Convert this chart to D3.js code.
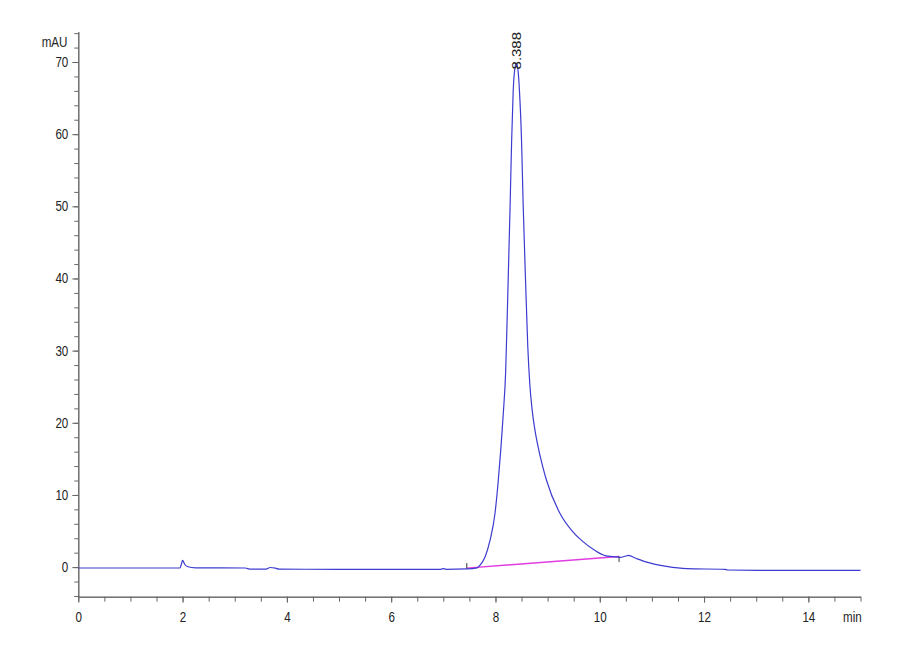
<!DOCTYPE html>
<meta charset="utf-8">
<script src="https://d3js.org/d3.v7.min.js"></script>
<style>
  body { margin: 0; background: #fff; }
  text { font-family: "Liberation Sans", Arial, sans-serif; fill: #222; }
</style>
<div id="my_dataviz"></div>
<script>
  // chromatogram trace: time (min) and absorbance (mAU)
  var times = [0, 1.0, 1.95, 1.98, 2.0, 2.04, 2.1, 2.25, 3.2, 3.3, 3.6, 3.68, 3.78, 3.85,
    5.0, 6.0, 6.95, 7.0, 7.05, 7.45, 7.65, 7.70, 7.80, 7.895, 7.99, 8.054, 8.105, 8.15,
    8.195, 8.23, 8.28, 8.31, 8.34, 8.37, 8.40, 8.43, 8.46, 8.50, 8.53, 8.58, 8.62, 8.66,
    8.70, 8.75, 8.82, 8.90, 8.98, 9.24, 9.46, 9.65, 9.91, 10.1, 10.26, 10.4, 10.48, 10.55,
    10.7, 10.9, 11.28, 11.67, 12.4, 12.45, 13.2, 14.5, 15.0];
  var signal = [-0.12, -0.12, -0.12, 0.5, 0.93, 0.4, 0.05, -0.1, -0.12, -0.28, -0.28, -0.05, -0.15, -0.28,
    -0.3, -0.3, -0.3, -0.2, -0.3, -0.25, -0.1, 0.24, 1.4, 3.7, 7.4, 12.0, 16.6, 21.3,
    27, 36, 49.9, 59.1, 66, 69.0, 69.8, 69.0, 66, 59.1, 50.5, 39, 30.5, 25.2,
    22.0, 19.3, 16.6, 14.1, 12.0, 7.4, 5.1, 3.7, 2.3, 1.6, 1.45, 1.35, 1.5, 1.62,
    1.2, 0.69, 0.1, -0.22, -0.3, -0.4, -0.45, -0.45, -0.45];

  // integration baseline of the peak
  var baseTimes = [7.45, 10.37];
  var baseValues = [-0.14, 1.48];
  var peakTime = 8.388;
  var peakValue = 69.8;
  var peakLabel = "8.388";

  // axis ticks
  var xMajor = [0, 2, 4, 6, 8, 10, 12, 14];
  var yMajor = [0, 10, 20, 30, 40, 50, 60, 70];

  var svg = d3.select("#my_dataviz")
    .append("svg")
    .attr("width", 900)
    .attr("height", 660);

  var x = d3.scaleLinear().domain([0, 15]).range([78.3, 860.5]);
  var y = d3.scaleLinear().domain([-4.1, 74.2]).range([596.7, 31.7]);

  var axisColor = "#666";
  var squeeze = 0.83; // the original labels are horizontally narrow

  // X axis: minor then major
  svg.append("g")
    .attr("transform", "translate(0," + y(-4.1) + ")")
    .call(d3.axisBottom(x).tickValues(d3.range(0, 15.01, 0.5)).tickSize(5).tickSizeOuter(0).tickFormat(""))
    .call(function (g) { g.selectAll("line,path").attr("stroke", axisColor); });
  svg.append("g")
    .attr("transform", "translate(0," + y(-4.1) + ")")
    .call(d3.axisBottom(x).tickValues(xMajor).tickSize(6).tickSizeOuter(0).tickPadding(9))
    .call(function (g) {
      g.selectAll("line,path").attr("stroke", axisColor);
      g.selectAll("text").attr("font-size", 14).attr("font-family", null).attr("fill", "#222")
        .attr("transform", "scale(" + squeeze + ",1)");
    });

  // Y axis
  svg.append("g")
    .attr("transform", "translate(" + x(0) + ",0)")
    .call(d3.axisLeft(y).tickValues(d3.range(-4, 74.1, 2)).tickSize(4).tickSizeOuter(0).tickFormat(""))
    .call(function (g) { g.selectAll("line,path").attr("stroke", axisColor); });
  svg.append("g")
    .attr("transform", "translate(" + x(0) + ",0)")
    .call(d3.axisLeft(y).tickValues(yMajor).tickSize(6).tickSizeOuter(0).tickPadding(4))
    .call(function (g) {
      g.selectAll("line,path").attr("stroke", axisColor);
      g.selectAll("text").attr("font-size", 14).attr("font-family", null).attr("fill", "#222")
        .attr("x", -10 / squeeze)
        .attr("transform", "scale(" + squeeze + ",1)");
    });

  // axis unit labels
  svg.append("text")
    .attr("transform", "translate(67.5,46.7) scale(" + squeeze + ",1)")
    .attr("text-anchor", "end")
    .attr("font-size", 14)
    .text("mAU");
  svg.append("text")
    .attr("transform", "translate(843,621.7) scale(" + squeeze + ",1)")
    .attr("font-size", 14)
    .text("min");

  // integration baseline
  svg.append("path")
    .datum(d3.zip(baseTimes, baseValues))
    .attr("fill", "none")
    .attr("stroke", "#e03ce0")
    .attr("stroke-width", 1.4)
    .attr("d", d3.line().x(function (d) { return x(d[0]); }).y(function (d) { return y(d[1]); }));

  // start / end marks
  svg.append("line")
    .attr("x1", x(baseTimes[0])).attr("x2", x(baseTimes[0]))
    .attr("y1", y(baseValues[0]) - 5).attr("y2", y(baseValues[0]) + 0.5)
    .attr("stroke", "#333").attr("stroke-width", 1);
  svg.append("line")
    .attr("x1", x(baseTimes[1])).attr("x2", x(baseTimes[1]))
    .attr("y1", y(baseValues[1])).attr("y2", y(baseValues[1]) + 5.5)
    .attr("stroke", "#333").attr("stroke-width", 1);

  // signal trace
  svg.append("path")
    .datum(d3.zip(times, signal))
    .attr("fill", "none")
    .attr("stroke", "#3c3cd0")
    .attr("stroke-width", 1.2)
    .attr("d", d3.line()
      .x(function (d) { return x(d[0]); })
      .y(function (d) { return y(d[1]); })
      .curve(d3.curveMonotoneX));

  // retention time label
  var px = x(peakTime) + 5, py = y(peakValue) + 6;
  svg.append("text")
    .attr("transform", "translate(" + px + "," + py + ") scale(" + squeeze + ",1) rotate(-90)")
    .attr("font-size", 15)
    .text(peakLabel);
</script>
